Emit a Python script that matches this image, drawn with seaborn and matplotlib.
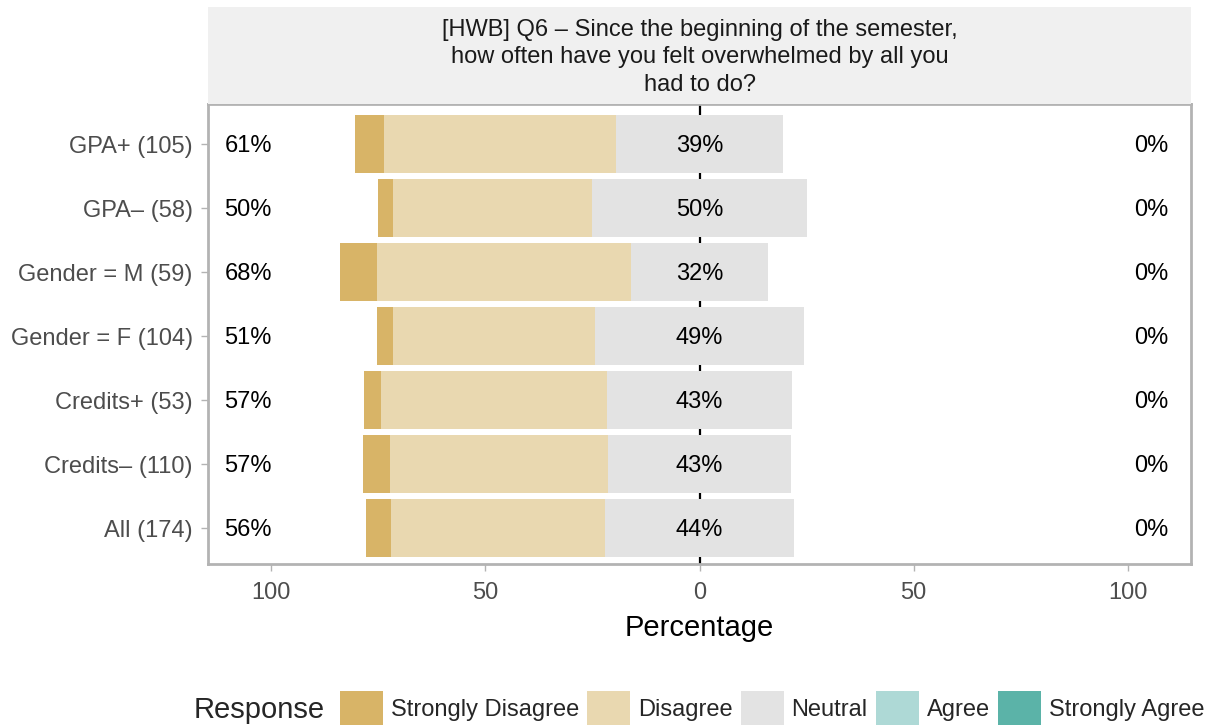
"""Diverging likert bar chart: HWB Q6, overwhelmed since semester start."""
import matplotlib
matplotlib.use('Agg')
import matplotlib.pyplot as plt
from matplotlib.patches import Patch
import pandas as pd
import seaborn as sns

W, H = 1218, 728

groups = ['GPA+ (105)', 'GPA– (58)', 'Gender = M (59)', 'Gender = F (104)',
          'Credits+ (53)', 'Credits– (110)', 'All (174)']
strongly_disagree = [6.7, 3.4, 8.5, 3.8, 3.8, 6.4, 5.7]
disagree = [54.3, 46.6, 59.3, 47.1, 52.8, 50.9, 50.0]
neutral = [39.0, 50.0, 32.2, 49.0, 43.4, 42.7, 44.3]
agree = [0, 0, 0, 0, 0, 0, 0]
strongly_agree = [0, 0, 0, 0, 0, 0, 0]

responses = ['Strongly Disagree', 'Disagree', 'Neutral', 'Agree', 'Strongly Agree']
colors = ['#D8B467', '#E9D8B0', '#E3E3E3', '#AED9D6', '#5BB3A8']
title = ('[HWB] Q6 – Since the beginning of the semester,\n'
         'how often have you felt overwhelmed by all you\nhad to do?')

sns.set_theme(style='white')
plt.rcParams['font.family'] = ['Liberation Sans', 'DejaVu Sans']

df = pd.DataFrame({'group': groups, 'sd': strongly_disagree, 'd': disagree,
                   'n': neutral, 'a': agree, 'sa': strongly_agree})
half = df['n'] / 2
# layers drawn from zero outwards, biggest first so later ones paint over
layers = [
    (-(half + df['d'] + df['sd']), colors[0]),
    (-(half + df['d']), colors[1]),
    (-half, colors[2]),
    (half + df['a'] + df['sa'], colors[4]),
    (half + df['a'], colors[3]),
    (half, colors[2]),
]

fig = plt.figure(figsize=(W / 100, H / 100), dpi=100)
ax = fig.add_axes([208 / W, 1 - 564 / H, (1191 - 208) / W, (564 - 104) / H])
ax.axvline(0, color='black', lw=1.6, zorder=0.5)
for vals, col in layers:
    sns.barplot(x=vals, y=df['group'], orient='h', color=col, width=0.9,
                saturation=1, linewidth=0, ax=ax, zorder=1)

low = (df['sd'] + df['d']).round().astype(int)
high = (df['a'] + df['sa']).round().astype(int)
for i in range(len(groups)):
    kw = dict(ha='center', va='center_baseline', fontsize=17, color='black')
    ax.text(-105.4, i, f'{low[i]}%', **kw)
    ax.text(0, i, f'{round(neutral[i])}%', **kw)
    ax.text(105.4, i, f'{high[i]}%', **kw)

ax.set_xlim(-114.8, 114.8)
ax.set_ylim(6 + 36 / 64, -40 / 64)
ax.set_xticks([-100, -50, 0, 50, 100])
ax.set_xticklabels(['100', '50', '0', '50', '100'])
ax.tick_params(axis='both', length=5, width=1, color='#B3B3B3', labelcolor='#4D4D4D',
               labelsize=17, pad=6, bottom=True, left=True)
ax.tick_params(axis='x', pad=8)
ax.set_ylabel('')
ax.set_xlabel('Percentage', fontsize=21, color='black', labelpad=7)
for sp in ax.spines.values():
    sp.set_color('#B3B3B3')
    sp.set_linewidth(2)

# facet strip with the question
strip = fig.add_axes([208 / W, 1 - 104 / H, (1191 - 208) / W, 97 / H])
strip.set_facecolor('#F0F0F0')
strip.set_xticks([])
strip.set_yticks([])
for sp in strip.spines.values():
    sp.set_visible(False)
strip.text(0.5, 0.48, title, ha='center', va='center', fontsize=17,
           color='#1A1A1A', linespacing=1.32, transform=strip.transAxes)

handles = [Patch(facecolor=c, edgecolor='none') for c in colors]
fig.text(194 / W, 1 - 710 / H, 'Response', ha='left', va='center', fontsize=21)
fig.legend(handles, responses, loc='center', bbox_to_anchor=(772 / W, 1 - 708 / H),
           ncol=5, frameon=False, fontsize=17, handlelength=1.82, handleheight=1.78,
           handletextpad=0.34, columnspacing=0.34, borderpad=0)

fig.savefig('out.png', dpi=100)
